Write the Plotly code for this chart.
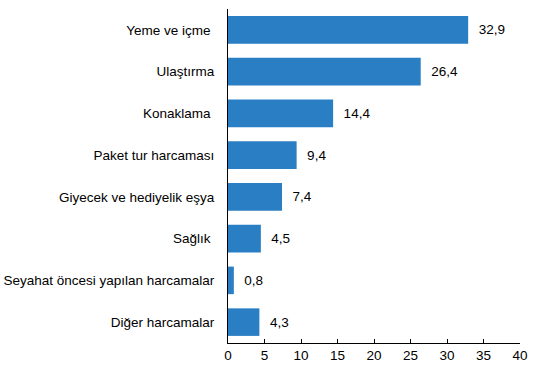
import plotly.graph_objects as go

categories = ["Yeme ve içme ", "Ulaştırma", "Konaklama ", "Paket tur harcaması",
              "Giyecek ve hediyelik eşya", "Sağlık ", "Seyahat öncesi yapılan harcamalar",
              "Diğer harcamalar"]
values = [32.9, 26.4, 14.4, 9.4, 7.4, 4.5, 0.8, 4.3]
x_ticks = [0, 5, 10, 15, 20, 25, 30, 35, 40]

FONT = "Liberation Sans, Arial"
FS = 13.5

fig = go.Figure(go.Bar(
    x=values, y=categories, orientation="h",
    marker=dict(color="#2a7ec3", line=dict(width=0)),
    width=0.66,
    text=["  " + f"{v:.1f}".replace(".", ",") for v in values],
    textposition="outside", cliponaxis=False,
    textfont=dict(family=FONT, size=FS, color="black"),
    hoverinfo="skip",
))

fig.update_layout(
    width=533, height=367,
    margin=dict(l=228, r=13, t=9, b=24),
    plot_bgcolor="white", paper_bgcolor="white",
    font=dict(family=FONT, size=FS, color="black"),
    showlegend=False,
)
fig.update_yaxes(
    categoryorder="array", categoryarray=categories[::-1],
    showline=True, linecolor="black", linewidth=1,
    ticks="", ticklabelstandoff=10, showgrid=False, zeroline=False,
    automargin=False,
)
fig.update_xaxes(
    range=[0, 40], tickvals=x_ticks, ticktext=[str(t) for t in x_ticks],
    showline=True, linecolor="black", linewidth=1,
    ticks="inside", ticklen=4, tickcolor="black",
    showgrid=False, zeroline=False, automargin=False,
)

fig.write_html("out.html", config={"displayModeBar": False, "staticPlot": True},
               post_script="document.body.style.margin='0';document.body.style.overflow='hidden';")
